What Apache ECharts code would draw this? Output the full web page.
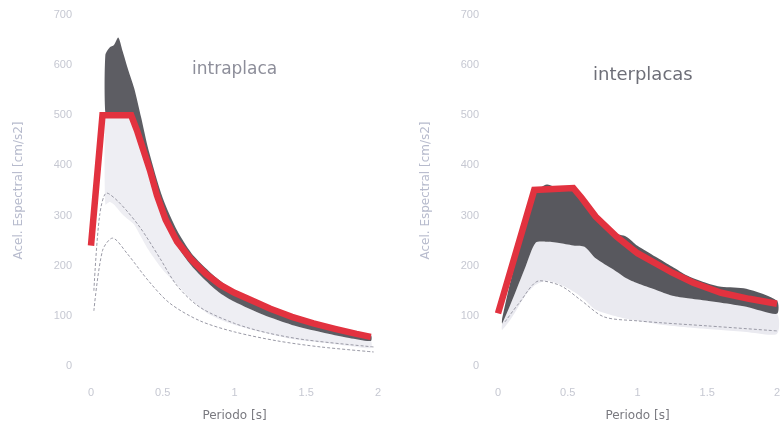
<!DOCTYPE html>
<html>
<head>
<meta charset="utf-8">
<script src="https://cdn.jsdelivr.net/npm/echarts@6/dist/echarts.min.js"></script>
<style>
  html, body { margin: 0; padding: 0; background: #fff; }
  #main { width: 783px; height: 434px; }
</style>
</head>
<body>
<div id="main"></div>
<script>
// axis ticks
var xTicks = [0, 0.5, 1, 1.5, 2];
var yTicks = [0, 100, 200, 300, 400, 500, 600, 700];

// ---- intraplaca (left) ----
var intraT        = [0.1, 0.13, 0.16, 0.19, 0.22, 0.26, 0.3, 0.35, 0.4, 0.5, 0.6, 0.7, 0.8, 0.9, 1.0, 1.2, 1.4, 1.6, 1.8, 1.95];
var intraDarkHigh = [620, 635, 640, 655, 628, 590, 555, 495, 432, 335, 270, 225, 195, 170, 150, 120, 98, 82, 70, 62];
var intraDarkLow  = [505, 500, 500, 505, 500, 495, 490, 460, 400, 300, 240, 200, 170, 145, 128, 102, 82, 68, 56, 50];
var intraLightLow = [330, 335, 330, 320, 310, 300, 290, 265, 240, 200, 170, 140, 115, 100, 90, 75, 62, 55, 48, 44];
var intraRedT     = [0, 0.08, 0.28, 0.32, 0.36, 0.41, 0.46, 0.52, 0.6, 0.7, 0.8, 0.9, 1.0, 1.11, 1.25, 1.4, 1.55, 1.7, 1.85, 1.95];
var intraRed      = [240, 500, 500, 470, 435, 391, 340, 292, 248, 212, 184, 162, 146, 132, 114, 98, 85, 74, 64, 58];
var intraLineAT   = [0.02, 0.06, 0.11, 0.2, 0.34, 0.48, 0.6, 0.76, 1.0, 1.23, 1.5, 1.97];
var intraLineA    = [150, 300, 345, 325, 277, 215, 160, 117, 85, 66, 52, 38];
var intraLineBT   = [0.02, 0.08, 0.15, 0.25, 0.4, 0.55, 0.76, 1.0, 1.3, 1.6, 1.97];
var intraLineB    = [110, 230, 255, 225, 170, 125, 90, 68, 50, 38, 28];

// ---- interplacas (right) ----
var interT        = [0.03, 0.1, 0.2, 0.27, 0.35, 0.45, 0.55, 0.62, 0.7, 0.83, 0.92, 1.0, 1.13, 1.25, 1.36, 1.5, 1.6, 1.78, 2.0];
var interDarkHigh = [95, 180, 280, 345, 362, 352, 350, 325, 300, 265, 258, 240, 218, 198, 180, 165, 158, 154, 130];
var interDarkLow  = [85, 130, 200, 246, 248, 245, 240, 238, 215, 192, 175, 165, 152, 140, 135, 130, 126, 118, 104];
var interLightLow = [80, 105, 150, 170, 178, 170, 155, 140, 120, 108, 102, 98, 92, 88, 85, 82, 80, 76, 72];
var interRedT     = [0, 0.26, 0.54, 0.6, 0.7, 0.85, 1.0, 1.25, 1.4, 1.6, 1.8, 2.0];
var interRed      = [105, 351, 355, 335, 298, 258, 225, 186, 166, 146, 134, 124];
var interLineT    = [0.05, 0.15, 0.3, 0.45, 0.6, 0.76, 1.0, 1.18, 1.5, 2.0];
var interLine     = [88, 125, 170, 160, 130, 98, 90, 86, 80, 70];

var chart = echarts.init(document.getElementById('main'));

function pairs(xs, ys) {
  return xs.map(function (x, i) { return [x, ys[i]]; });
}

// filled band between two envelopes, drawn as one polygon
function band(idx, xs, low, high, color, gap) {
  return {
    type: 'custom', xAxisIndex: idx, yAxisIndex: idx, silent: true,
    data: xs.map(function (x, i) { return [x, low[i], high[i]]; }),
    renderItem: function (params, api) {
      if (params.dataIndex !== 0) return null;
      var pts = [];
      var n = xs.length;
      for (var i = 0; i < n; i++) pts.push(api.coord([xs[i], high[i]]));
      for (var j = n - 1; j >= 0; j--) pts.push(api.coord([xs[j], low[j] - (gap || 0)]));
      return {
        type: 'polygon',
        shape: { points: pts, smooth: 0.25 },
        style: { fill: color }
      };
    },
    encode: { x: 0, y: [1, 2] }
  };
}

function thin(idx, xs, ys) {
  return {
    type: 'line', xAxisIndex: idx, yAxisIndex: idx, data: pairs(xs, ys),
    symbol: 'none', smooth: 0.3, silent: true,
    lineStyle: { color: '#9a9aa6', width: 1, type: [3, 2] }
  };
}

function redLine(idx, xs, ys) {
  return {
    type: 'line', xAxisIndex: idx, yAxisIndex: idx, data: pairs(xs, ys),
    symbol: 'none', smooth: false, silent: true, z: 5,
    lineStyle: { color: '#e2323f', width: 6.5, cap: 'butt', join: 'miter' }
  };
}

function xAxis(idx) {
  return {
    type: 'value', gridIndex: idx, min: 0, max: 2, interval: 0.5,
    name: 'Periodo [s]', nameLocation: 'middle', nameGap: 44,
    nameTextStyle: { color: '#7a7a80', fontSize: 12, fontFamily: 'DejaVu Sans' },
    axisLine: { show: false }, axisTick: { show: false }, splitLine: { show: false },
    axisLabel: {
      color: '#c6c8d2', fontSize: 11, margin: 21,
      formatter: function (v) { return xTicks.indexOf(v) >= 0 ? String(v) : ''; }
    }
  };
}

function yAxis(idx) {
  return {
    type: 'value', gridIndex: idx, min: 0, max: 700, interval: 100,
    name: 'Acel. Espectral [cm/s2]', nameLocation: 'middle', nameGap: 66,
    nameTextStyle: { color: '#b7bbcd', fontSize: 12, fontFamily: 'DejaVu Sans' },
    axisLine: { show: false }, axisTick: { show: false }, splitLine: { show: false },
    axisLabel: {
      color: '#c6c8d2', fontSize: 11, margin: 19,
      formatter: function (v) { return yTicks.indexOf(v) >= 0 ? String(v) : ''; }
    }
  };
}

var option = {
  backgroundColor: '#fff',
  animation: false,
  title: [{
    text: 'intraplaca', left: 187, top: 56,
    textStyle: { color: '#8d8e9a', fontSize: 17, fontWeight: 'normal', fontFamily: 'DejaVu Sans' }
  }, {
    text: 'interplacas', left: 588, top: 61,
    textStyle: { color: '#6e6f78', fontSize: 18, fontWeight: 'normal', fontFamily: 'DejaVu Sans' }
  }],
  grid: [
    { left: 91, top: 15, width: 287, height: 351 },
    { left: 498, top: 15, width: 287, height: 351 }
  ],
  xAxis: [xAxis(0), xAxis(1)],
  yAxis: [yAxis(0), yAxis(1)],
  series: [
    band(0, intraT, intraLightLow, intraDarkLow, '#eeeef3', 8),
    band(0, intraT, intraDarkLow, intraDarkHigh, '#5d5d63', 0),
    thin(0, intraLineAT, intraLineA),
    thin(0, intraLineBT, intraLineB),
    redLine(0, intraRedT, intraRed),
    band(1, interT, interLightLow, interDarkLow, '#eaeaf0', 8),
    band(1, interT, interDarkLow, interDarkHigh, '#58585e', 0),
    thin(1, interLineT, interLine),
    redLine(1, interRedT, interRed)
  ]
};

chart.setOption(option);
</script>
</body>
</html>
